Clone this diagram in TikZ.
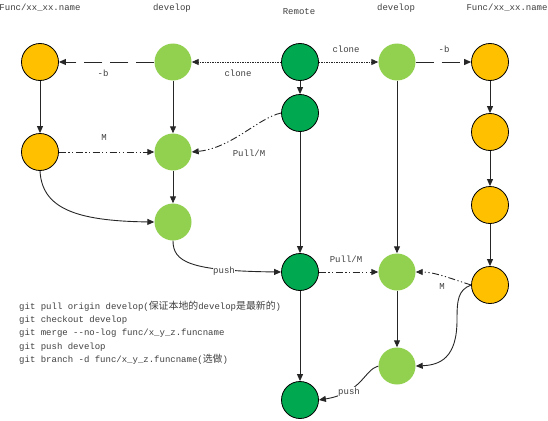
\documentclass[tikz,border=0pt]{standalone}
\usepackage{fontspec}
\usetikzlibrary{arrows.meta}
\newfontfamily\codefont{Liberation Mono}
\newfontfamily\cjkfont[Scale=1.1]{Noto Sans CJK SC}

\definecolor{funcorange}{HTML}{FFC000}
\definecolor{devgreen}{HTML}{92D050}
\definecolor{remotegreen}{HTML}{00A84F}
\definecolor{linegray}{HTML}{262626}
\definecolor{textgray}{HTML}{404040}

\begin{document}
\begin{tikzpicture}[x=1pt,y=-1pt,
  commit/.style={circle, minimum size=37pt, inner sep=0pt},
  func/.style={commit, fill=funcorange, draw=black, line width=0.8pt},
  dev/.style={commit, fill=devgreen},
  remote/.style={commit, fill=remotegreen, draw=black, line width=0.8pt},
  flow/.style={draw=linegray, line width=0.9pt, -{Triangle[length=7pt,width=6pt]}},
  branchoff/.style={flow, dash pattern=on 18pt off 8pt},
  cloneline/.style={flow, dash pattern=on 1.5pt off 1pt},
  mergeline/.style={flow, dash pattern=on 7pt off 2.5pt on 1.2pt off 2.5pt on 1.2pt off 2.5pt},
  lbl/.style={font=\codefont\fontsize{9}{11}\selectfont, text=textgray, inner sep=1pt},
]
\useasboundingbox (0,0) rectangle (548,420);

% column headings
\node[lbl] (hfuncl) at (40,8) {Func/xx\_xx.name};
\node[lbl] (hdevl) at (172,8) {develop};
\node[lbl] (hremote) at (299,12) {Remote};
\node[lbl] (hdevr) at (396,8) {develop};
\node[lbl] (hfuncr) at (507,8) {Func/xx\_xx.name};

% local feature branch (left)
\node[func] (f1) at (40,62) {};
\node[func] (f2) at (40,152) {};
% local develop (left)
\node[dev] (d1) at (173,62) {};
\node[dev] (d2) at (173,152) {};
\node[dev] (d3) at (173,222) {};
% remote
\node[remote] (r1) at (300,62) {};
\node[remote] (r2) at (300,113) {};
\node[remote] (r3) at (300,272) {};
\node[remote] (r4) at (300,400) {};
% local develop (right)
\node[dev] (e1) at (397,62) {};
\node[dev] (e2) at (397,272) {};
\node[dev] (e3) at (397,366) {};
% local feature branch (right)
\node[func] (g1) at (490,62) {};
\node[func] (g2) at (490,132) {};
\node[func] (g3) at (490,205) {};
\node[func] (g4) at (490,285) {};

% clone and branch off
\draw[cloneline] (r1) -- (d1);
\draw[cloneline] (r1) -- (e1);
\draw[branchoff] (d1) -- (f1);
\draw[branchoff] (e1) -- (g1);

% plain history
\draw[flow] (f1) -- (f2);
\draw[flow] (d1) -- (d2);
\draw[flow] (d2) -- (d3);
\draw[flow] (r1) -- (r2);
\draw[flow] (r2) -- (r3);
\draw[flow] (r3) -- (r4);
\draw[flow] (e1) -- (e2);
\draw[flow] (e2) -- (e3);
\draw[flow] (g1) -- (g2);
\draw[flow] (g2) -- (g3);
\draw[flow] (g3) -- (g4);

% merges and pulls
\draw[mergeline] (f2) -- (d2);
\draw[mergeline] (r2.west) .. controls (258,118) and (232,148) .. (d2.east);
\draw[mergeline] (r3) -- (e2);
\draw[mergeline] (g4.west) .. controls (455,280) and (435,272) .. (e2.east);
\draw[flow] (f2.south) .. controls (42,208) and (75,221) .. (d3.west);
\draw[flow] (g4.west) .. controls (458,290) and (457,300) .. (457,320)
  .. controls (457,358) and (440,365) .. (e3.east);

% pushes
\draw[flow] (d3.south) .. controls (173,262) and (190,271) .. (r3.west);
\draw[flow] (e3.west) .. controls (364,370) and (362,393) .. (r4.east);

% edge labels
\node[lbl] (lbl1) at (103,73) {-b};
\node[lbl] (lbl2) at (238,73) {clone};
\node[lbl] (lbl3) at (346,49) {clone};
\node[lbl] (lbl4) at (444,49) {-b};
\node[lbl] (lbl5) at (104,138) {M};
\node[lbl] (lbl6) at (249,153) {Pull/M};
\node[lbl] (lbl7) at (346,259) {Pull/M};
\node[lbl] (lbl8) at (442,287) {M};
\node[lbl, fill=white, inner sep=0.5pt] (lbl9) at (224,271) {push};
\node[lbl, fill=white, inner sep=0.5pt] (lbl10) at (349,392) {push};

% command list
\node[lbl, anchor=north west, align=left, font=\codefont\fontsize{9}{13.2}\selectfont] (cmds) at (18,300)
{git pull origin develop({\cjkfont 保证本地的}develop{\cjkfont 是最新的})\\
git checkout develop\\
git merge --no-log func/x\_y\_z.funcname\\
git push develop\\
git branch -d func/x\_y\_z.funcname({\cjkfont 选做})};
\end{tikzpicture}
\end{document}
